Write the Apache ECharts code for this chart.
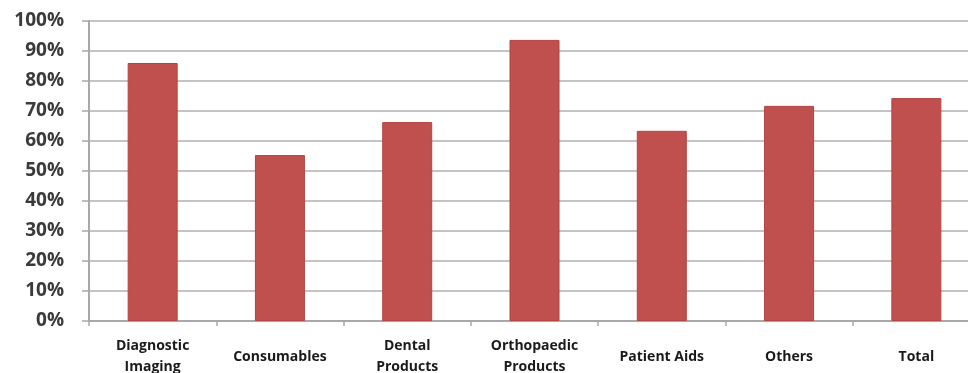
<!DOCTYPE html>
<html>
<head>
<meta charset="utf-8">
<script src="https://cdn.jsdelivr.net/npm/echarts@6/dist/echarts.min.js"></script>
<style>
  html, body { margin: 0; padding: 0; background: #fff; }
  #chart { width: 968px; height: 373px; }
</style>
</head>
<body>
<div id="chart"></div>
<script>
const categories = ['Diagnostic\nImaging', 'Consumables', 'Dental\nProducts', 'Orthopaedic\nProducts', 'Patient Aids', 'Others', 'Total'];
const shares = [86, 55.3, 66.3, 93.7, 63.4, 71.7, 74.3];

const chart = echarts.init(document.getElementById('chart'));

const option = {
  animation: false,
  grid: { left: 89, top: 21, width: 891, height: 300, containLabel: false, outerBoundsMode: 'none' },
  xAxis: {
    type: 'category',
    data: categories,
    axisLine: { lineStyle: { color: '#a8a8a8', width: 2 } },
    axisTick: { show: true, length: 5, lineStyle: { color: '#a8a8a8', width: 1.5 } },
    axisLabel: {
      interval: 0,
      margin: 36,
      verticalAlign: 'middle',
      lineHeight: 21,
      fontFamily: 'Open Sans',
      fontWeight: 'bold',
      fontSize: 14,
      color: '#1a1a1a'
    }
  },
  yAxis: {
    type: 'value',
    min: 0,
    max: 100,
    interval: 10,
    axisLine: { show: true, lineStyle: { color: '#a8a8a8', width: 2 } },
    axisTick: { show: true, length: 7, lineStyle: { color: '#a8a8a8', width: 1.5 } },
    splitLine: { lineStyle: { color: '#c4c4c4', width: 2 } },
    axisLabel: {
      formatter: '{value}%',
      margin: 25,
      fontFamily: 'Open Sans',
      fontWeight: 'bold',
      fontSize: 19,
      color: '#3a3a3a'
    }
  },
  series: [{
    type: 'bar',
    data: shares,
    barWidth: 50,
    itemStyle: { color: '#c0504d', borderColor: '#b3443f', borderWidth: 1 }
  }]
};

chart.setOption(option);
</script>
</body>
</html>
